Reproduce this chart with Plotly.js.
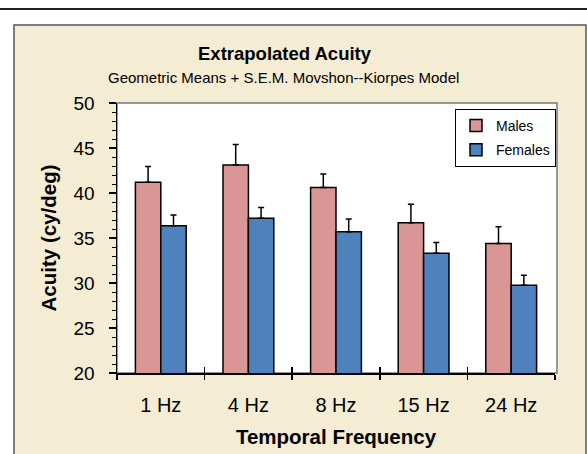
<!DOCTYPE html>
<html>
<head>
<meta charset="utf-8">
<script src="https://cdn.plot.ly/plotly-3.0.1.min.js"></script>
<style>
html,body{margin:0;padding:0;background:#fff;}
#chart{width:587px;height:454px;}
</style>
</head>
<body>
<div id="chart"></div>
<script>
// ---- data ----
const categories = ["1 Hz", "4 Hz", "8 Hz", "15 Hz", "24 Hz"];
const malesMean = [41.2, 43.1, 40.6, 36.7, 34.4];
const malesSEM = [1.75, 2.3, 1.5, 2.05, 1.85];
const femalesMean = [36.35, 37.2, 35.7, 33.3, 29.75];
const femalesSEM = [1.2, 1.2, 1.4, 1.2, 1.1];
const yTicks = [20, 25, 30, 35, 40, 45, 50];

const FONT = "Liberation Sans, Arial, Helvetica, sans-serif";
const W = 587, H = 454;
const M = {l: 117, r: 32, t: 103, b: 81};
const pw = W - M.l - M.r, ph = H - M.t - M.b;
const px = x => (x - M.l) / pw;
const py = y => (H - M.b - y) / ph;

const zeros = categories.map(() => 0);

const traces = [
  {
    type: "bar", name: "Males", x: categories, y: malesMean,
    marker: {color: "#D99694", line: {color: "#000", width: 1.5}},
    error_y: {type: "data", symmetric: false, array: malesSEM, arrayminus: zeros,
              color: "#000", thickness: 1.5, width: 3},
    legendgroup: "m", hoverinfo: "x+y"
  },
  {
    type: "bar", name: "Females", x: categories, y: femalesMean,
    marker: {color: "#4F81BD", line: {color: "#000", width: 1.5}},
    error_y: {type: "data", symmetric: false, array: femalesSEM, arrayminus: zeros,
              color: "#000", thickness: 1.5, width: 3},
    legendgroup: "f", hoverinfo: "x+y"
  },
  {
    type: "scatter", x: [], y: [], xaxis: "x2", yaxis: "y",
    showlegend: false, hoverinfo: "skip"
  }
];

const layout = {
  width: W, height: H,
  margin: M,
  paper_bgcolor: "#fff",
  plot_bgcolor: "rgba(0,0,0,0)",
  font: {family: FONT, color: "#000"},
  barmode: "group",
  bargap: 0.42,
  bargroupgap: 0,
  showlegend: true,
  legend: {
    x: px(505.5), y: py(109), xanchor: "center", yanchor: "top",
    bgcolor: "#fff", bordercolor: "#000", borderwidth: 1,
    font: {size: 14, family: FONT},
    traceorder: "grouped", tracegroupgap: 3,
    itemwidth: 30
  },
  xaxis: {
    type: "category", categoryarray: categories, range: [-0.5, 4.5],
    tickson: "boundaries", ticks: "outside", ticklen: 5, tickwidth: 1.5, tickcolor: "#000",
    showline: true, linecolor: "#000", linewidth: 1.5,
    showgrid: false, zeroline: false,
    tickfont: {size: 20, family: FONT},
    ticklabelstandoff: 13,
    title: {text: "<b>Temporal Frequency</b>", font: {size: 20.5, family: FONT}, standoff: 15},
    fixedrange: true
  },
  xaxis2: {
    overlaying: "x", anchor: "y", side: "bottom",
    range: [0, categories.length], tick0: 0, dtick: 1,
    ticks: "inside", ticklen: 6, tickwidth: 1.5, tickcolor: "#000",
    showticklabels: false, showgrid: false, zeroline: false, showline: false,
    fixedrange: true
  },
  yaxis: {
    range: [20, 50], tickvals: yTicks, ticktext: yTicks.map(String),
    ticks: "outside", ticklen: 7, tickwidth: 1.5, tickcolor: "#000",
    minor: {dtick: 1, ticks: "outside", ticklen: 4, tickwidth: 1, tickcolor: "#000", showgrid: false},
    showline: true, linecolor: "#000", linewidth: 1.5,
    showgrid: false, zeroline: false,
    tickfont: {size: 19, family: FONT},
    ticklabelstandoff: 10,
    title: {text: "<b>Acuity (cy/deg)</b>", font: {size: 20.5, family: FONT}, standoff: 11},
    fixedrange: true
  },
  shapes: [
    // top rule
    {type: "line", xref: "paper", yref: "paper", layer: "below",
     x0: px(0), x1: px(587), y0: py(9), y1: py(9), line: {color: "#222", width: 2}},
    // beige panel
    {type: "rect", xref: "paper", yref: "paper", layer: "below",
     x0: px(14), x1: px(586), y0: py(470), y1: py(25),
     fillcolor: "#F4ECD3", line: {color: "#555", width: 1.5}},
    // plot area white fill
    {type: "rect", xref: "paper", yref: "paper", layer: "below",
     x0: 0, x1: px(557), y0: 0, y1: 1,
     fillcolor: "#fff", line: {color: "#777", width: 1.5}}
  ],
  annotations: [
    {xref: "paper", yref: "paper", x: px(285), y: py(54), xanchor: "center", yanchor: "middle",
     text: "<b>Extrapolated Acuity</b>", showarrow: false, font: {size: 18.5, family: FONT}},
    {xref: "paper", yref: "paper", x: px(283), y: py(77), xanchor: "center", yanchor: "middle",
     text: "Geometric Means + S.E.M. Movshon--Kiorpes Model", showarrow: false, font: {size: 15, family: FONT}}
  ]
};

Plotly.newPlot("chart", traces, layout, {displayModeBar: false, staticPlot: true});
</script>
</body>
</html>
